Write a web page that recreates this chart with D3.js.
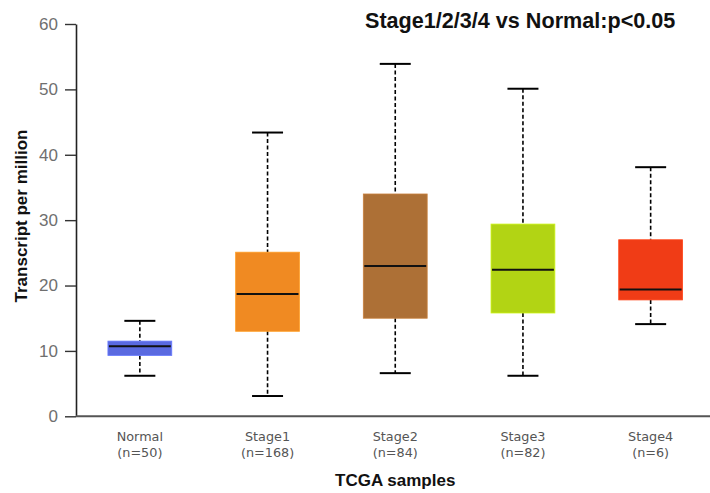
<!DOCTYPE html>
<html>
<head>
<meta charset="utf-8">
<script src="https://cdn.jsdelivr.net/npm/d3@7/dist/d3.min.js"></script>
<style>
  html, body { margin: 0; padding: 0; background: #fff; }
  svg { display: block; }
</style>
</head>
<body>
<div id="chart"></div>
<script>
// Expression groups and their sample counts
const groups = ["Normal", "Stage1", "Stage2", "Stage3", "Stage4"];
const counts = [50, 168, 84, 82, 6];

// Box-plot summaries (transcripts per million)
const whiskerLow  = [6.2, 3.1, 6.6, 6.2, 14.1];
const q1          = [9.3, 13.0, 15.0, 15.8, 17.8];
const medians     = [10.7, 18.7, 23.0, 22.4, 19.4];
const q3          = [11.5, 25.1, 34.0, 29.4, 27.0];
const whiskerHigh = [14.6, 43.4, 53.9, 50.1, 38.1];

const colors = ["#5a6ae0", "#f08a22", "#ad7036", "#b2d414", "#f03c16"];
const yTicks = [0, 10, 20, 30, 40, 50, 60];

const W = 710, H = 493;
const plotLeft = 76, plotRight = 714.5, plotTop = 24, plotBottom = 416.3;

const svg = d3.select("#chart").append("svg")
  .attr("width", W).attr("height", H);

const x = d3.scaleBand().domain(groups).range([plotLeft, plotRight]).padding(0);
const y = d3.scaleLinear().domain([0, 60]).range([plotBottom, plotTop]);

const data = groups.map((g, i) => ({
  g, n: counts[i], lo: whiskerLow[i], q1: q1[i], med: medians[i],
  q3: q3[i], hi: whiskerHigh[i], c: colors[i]
}));

const boxW = x.bandwidth() * 0.5;
const capW = 31;

const box = svg.append("g").selectAll("g").data(data).join("g")
  .attr("transform", d => `translate(${x(d.g) + x.bandwidth() / 2},0)`);

// dashed whiskers
box.append("line")
  .attr("x1", 0).attr("x2", 0)
  .attr("y1", d => y(d.hi)).attr("y2", d => y(d.q3))
  .attr("stroke", "#000").attr("stroke-width", 1.6).attr("stroke-dasharray", "4,2.5");
box.append("line")
  .attr("x1", 0).attr("x2", 0)
  .attr("y1", d => y(d.q1)).attr("y2", d => y(d.lo))
  .attr("stroke", "#000").attr("stroke-width", 1.6).attr("stroke-dasharray", "4,2.5");

// whisker caps
box.selectAll("line.cap").data(d => [d.hi, d.lo]).join("line")
  .attr("class", "cap")
  .attr("x1", -capW / 2).attr("x2", capW / 2)
  .attr("y1", v => y(v)).attr("y2", v => y(v))
  .attr("stroke", "#000").attr("stroke-width", 2);

// interquartile box
box.append("rect")
  .attr("x", -boxW / 2).attr("width", boxW)
  .attr("y", d => y(d.q3)).attr("height", d => y(d.q1) - y(d.q3))
  .attr("fill", d => d.c)
  .attr("stroke", d => d3.color(d.c).brighter(0.4)).attr("stroke-width", 0.8);

// median
box.append("line")
  .attr("x1", -boxW / 2 + 1).attr("x2", boxW / 2 - 1)
  .attr("y1", d => y(d.med)).attr("y2", d => y(d.med))
  .attr("stroke", "#111").attr("stroke-width", 2);

// y axis
const yAxis = svg.append("g")
  .attr("transform", `translate(${plotLeft},0)`)
  .call(d3.axisLeft(y).tickValues(yTicks).tickSize(11).tickPadding(7).tickSizeOuter(0));
yAxis.select(".domain").attr("stroke", "#222").attr("stroke-width", 1.6);
yAxis.selectAll(".tick line").attr("stroke", "#333").attr("stroke-width", 1.4);
yAxis.selectAll(".tick text")
  .attr("fill", "#6f6f6f")
  .style("font-family", "'Liberation Sans', Arial, sans-serif")
  .style("font-size", "17px");

// x axis baseline
svg.append("line")
  .attr("x1", plotLeft).attr("x2", W)
  .attr("y1", plotBottom).attr("y2", plotBottom)
  .attr("stroke", "#555").attr("stroke-width", 2);

// category labels
const xl = svg.append("g").selectAll("text").data(data).join("text")
  .attr("x", d => x(d.g) + x.bandwidth() / 2)
  .attr("text-anchor", "middle")
  .attr("fill", "#555")
  .style("font-family", "'DejaVu Sans', sans-serif")
  .style("font-size", "12.8px");
xl.append("tspan").attr("x", d => x(d.g) + x.bandwidth() / 2).attr("y", 441).text(d => d.g);
xl.append("tspan").attr("x", d => x(d.g) + x.bandwidth() / 2).attr("y", 457).text(d => `(n=${d.n})`);

// axis titles
svg.append("text")
  .attr("x", (plotLeft + plotRight) / 2).attr("y", 486)
  .attr("text-anchor", "middle")
  .style("font-family", "'Liberation Sans', Arial, sans-serif")
  .style("font-weight", "bold").style("font-size", "17px")
  .attr("fill", "#111")
  .text("TCGA samples");

svg.append("text")
  .attr("transform", "translate(27,216) rotate(-90)")
  .attr("text-anchor", "middle")
  .style("font-family", "'Liberation Sans', Arial, sans-serif")
  .style("font-weight", "bold").style("font-size", "17px")
  .attr("fill", "#111")
  .text("Transcript per million");

// significance note
svg.append("text")
  .attr("x", 365).attr("y", 28)
  .style("font-family", "'Liberation Sans', Arial, sans-serif")
  .style("font-weight", "bold").style("font-size", "21.6px")
  .attr("fill", "#111")
  .text("Stage1/2/3/4 vs Normal:p<0.05");
</script>
</body>
</html>
